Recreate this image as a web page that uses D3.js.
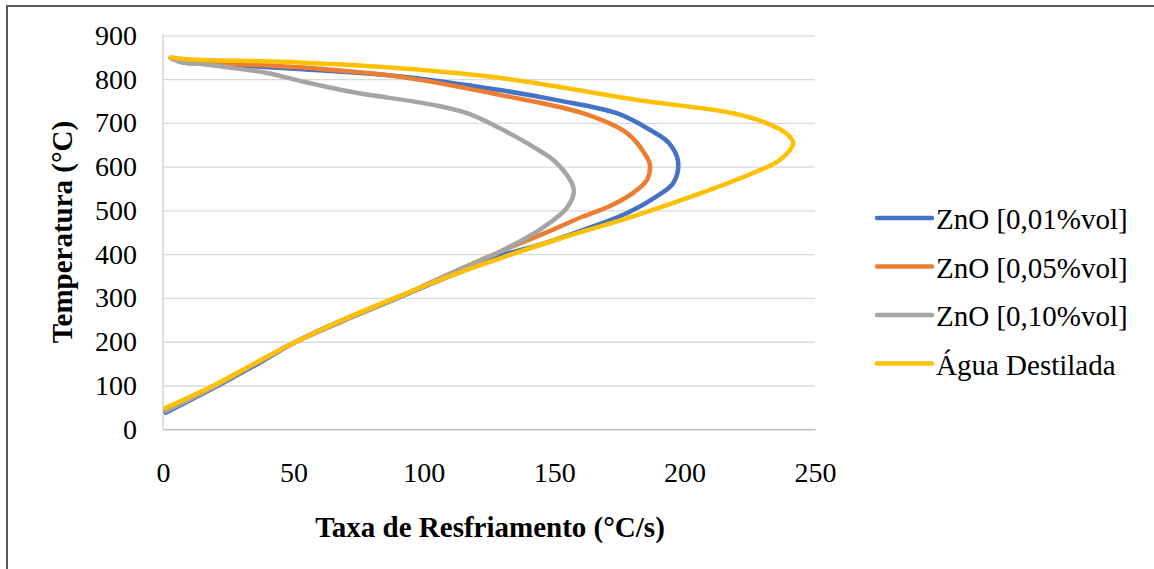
<!DOCTYPE html>
<html>
<head>
<meta charset="utf-8">
<script src="https://cdn.jsdelivr.net/npm/d3@7"></script>
<style>
  body { margin: 0; background: #fff; }
  svg { display: block; }
  text { font-family: "Liberation Serif", "Times New Roman", serif; fill: #000; }
</style>
</head>
<body>
<svg id="app" width="1154" height="569"></svg>
<script>
// series: cooling rate (°C/s) vs temperature (°C), top to bottom
const seriesNames = ["ZnO [0,01%vol]", "ZnO [0,05%vol]", "ZnO [0,10%vol]", "Água Destilada"];
const seriesColors = ["#4472C4", "#ED7D31", "#A5A5A5", "#FFC000"];

const rate001 = [3, 8, 15, 52, 91, 129, 151, 174, 187, 194, 197.5, 195.6, 189, 178, 161, 142, 130, 110, 90, 69, 51, 37, 23, 1];
const temp001 = [848, 838, 836, 823, 806, 775, 752, 722, 683, 654, 611, 562, 531, 494, 455, 417, 398, 350, 300, 250, 200, 152, 106, 38];

const rate005 = [3, 8, 30, 52, 91, 129, 161, 178, 185.5, 186.7, 185.5, 180, 171, 161, 148, 129, 108, 90, 70, 51, 36, 21, 1];
const temp005 = [848, 840, 834, 827, 805, 764, 722, 676, 622, 604, 569, 539, 509, 486, 452, 405, 350, 300, 250, 200, 152, 102, 42];

const rate010 = [3, 8, 14, 27, 40, 52.5, 72, 103.6, 116.6, 129, 142, 151, 157.5, 155, 146, 129, 108, 90, 70, 51, 36, 21, 1];
const temp010 = [848, 837, 835, 825, 814, 796, 771, 741, 722, 688, 645, 608, 547, 507, 462, 405, 350, 300, 250, 200, 152, 102, 42];

const rateAgua = [3, 8, 52, 91, 129, 155, 182, 218.6, 231.6, 239, 241.6, 236.5, 226, 206, 180, 155, 129, 110, 88, 67, 50, 35, 20, 1];
const tempAgua = [850, 846, 838, 825, 803, 779, 752, 722, 699, 676, 654, 615, 585, 539, 486, 441, 390, 350, 298, 245, 197, 150, 102, 49];

const seriesRates = [rate001, rate005, rate010, rateAgua];
const seriesTemps = [temp001, temp005, temp010, tempAgua];

const xTicks = [0, 50, 100, 150, 200, 250];
const yTicks = [0, 100, 200, 300, 400, 500, 600, 700, 800, 900];

const svg = d3.select("#app");

// outer frame (only top and left edges fall inside the picture)
svg.append("line").attr("x1", 6).attr("x2", 1154).attr("y1", 6).attr("y2", 6)
  .attr("stroke", "#595959").attr("stroke-width", 2);
svg.append("line").attr("x1", 7).attr("x2", 7).attr("y1", 6).attr("y2", 569)
  .attr("stroke", "#595959").attr("stroke-width", 2);

const x = d3.scaleLinear().domain([0, 250]).range([163, 815]);
const y = d3.scaleLinear().domain([0, 900]).range([429.3, 35.3]);

// horizontal gridlines
svg.append("g")
  .attr("transform", `translate(${x(0)},0)`)
  .call(d3.axisLeft(y).tickValues(yTicks.filter(d => d > 0)).tickSize(-(x(250) - x(0))).tickFormat(""))
  .call(g => g.select(".domain").remove())
  .call(g => g.selectAll("line").attr("stroke", "#d9d9d9").attr("stroke-width", 1.3));

// vertical axis line
svg.append("line").attr("x1", x(0)).attr("x2", x(0)).attr("y1", y(900)).attr("y2", y(0))
  .attr("stroke", "#d0d0d0").attr("stroke-width", 1.3);

// y tick labels
svg.append("g")
  .attr("transform", `translate(${x(0)},0)`)
  .call(d3.axisLeft(y).tickValues(yTicks).tickSize(0).tickPadding(26))
  .call(g => g.select(".domain").remove())
  .call(g => g.selectAll("text").attr("font-size", 28)
    .style("font-family", '"Liberation Serif", serif').attr("fill", "#000"));

// x axis line and labels
svg.append("g")
  .attr("transform", `translate(0,${y(0)})`)
  .call(d3.axisBottom(x).tickValues(xTicks).tickSize(0).tickPadding(33))
  .call(g => g.select(".domain").attr("stroke", "#bfbfbf").attr("stroke-width", 1.6))
  .call(g => g.selectAll("text").attr("font-size", 28)
    .style("font-family", '"Liberation Serif", serif').attr("fill", "#000"));

// curves
const line = d3.line()
  .x(d => x(d[0]))
  .y(d => y(d[1]))
  .curve(d3.curveCatmullRom.alpha(0.5));

seriesNames.forEach((name, i) => {
  const pts = seriesRates[i].map((r, j) => [r, seriesTemps[i][j]]);
  svg.append("path")
    .datum(pts)
    .attr("d", line)
    .attr("fill", "none")
    .attr("stroke", seriesColors[i])
    .attr("stroke-width", 4.5)
    .attr("stroke-linecap", "round")
    .attr("stroke-linejoin", "round");
});

// axis titles
svg.append("text")
  .attr("x", 490).attr("y", 537)
  .attr("text-anchor", "middle")
  .attr("font-size", 29).attr("font-weight", "bold")
  .text("Taxa de Resfriamento (°C/s)");

svg.append("text")
  .attr("transform", "translate(72,232) rotate(-90)")
  .attr("text-anchor", "middle")
  .attr("font-size", 29).attr("font-weight", "bold")
  .text("Temperatura (°C)");

// legend
const legend = svg.append("g");
seriesNames.forEach((name, i) => {
  const ly = 218 + i * 48.5;
  legend.append("line")
    .attr("x1", 877).attr("x2", 932).attr("y1", ly).attr("y2", ly)
    .attr("stroke", seriesColors[i]).attr("stroke-width", 4.5)
    .attr("stroke-linecap", "round");
  legend.append("text")
    .attr("x", 936).attr("y", ly + 11)
    .attr("font-size", 29)
    .text(name);
});
</script>
</body>
</html>
